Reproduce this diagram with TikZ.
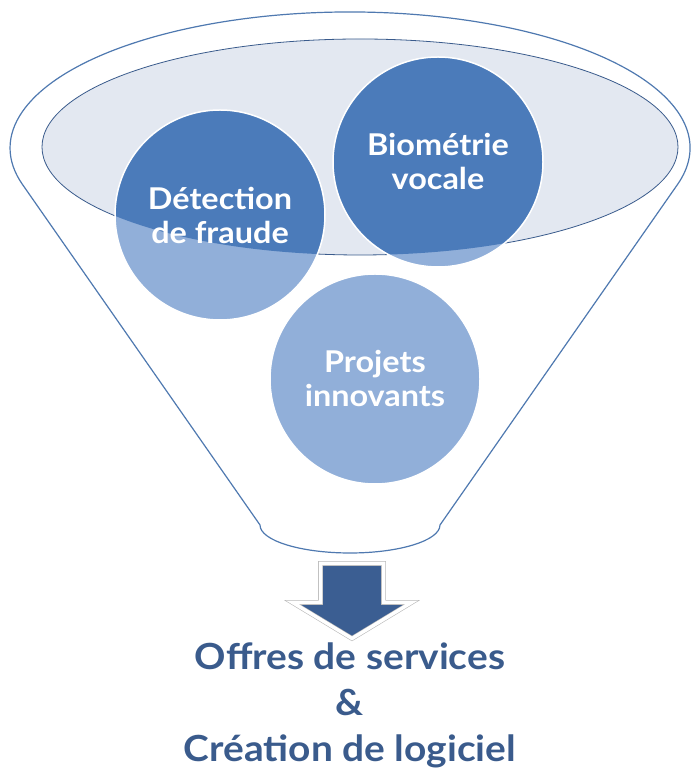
\documentclass[tikz,border=0pt]{standalone}
\usepackage{fontspec}
\setmainfont{Lato}
\newfontfamily\gill[FakeStretch=1.08]{Lato}
\usetikzlibrary{calc}
\definecolor{rim}{HTML}{4F79B0}
\definecolor{cup}{HTML}{E3E8F1}
\definecolor{deep}{HTML}{4B7BBA}
\definecolor{pale}{HTML}{91AFD9}
\definecolor{ink}{HTML}{3A5B8C}
\definecolor{shaft}{HTML}{3B5E92}
\begin{document}
\begin{tikzpicture}[x=1pt, y=1pt,
  bubble/.style={circle, draw=white, line width=1.5pt, fill=pale, minimum size=210pt, inner sep=0pt,
    text=white, align=center, font=\gill\bfseries\fontsize{30}{34}\selectfont,
    path picture={\fill[deep] (E) ellipse [x radius=318, y radius=108];}}]
\useasboundingbox (0,0) rectangle (691,770);
\coordinate (F) at (350,622);
\coordinate (E) at (360,623);
\coordinate (bl) at (260,245);
\coordinate (br) at (440,245);
\filldraw[draw=rim, line width=1.2pt, fill=white] (br) -- ($(F)+(-15.6:340 and 136)$)
  arc[start angle=-15.6, end angle=195.6, x radius=340, y radius=136] -- (bl)
  arc[start angle=180, end angle=360, x radius=90, y radius=28] -- cycle;
\filldraw[fill=cup, draw=ink, line width=0.8pt] (E) ellipse [x radius=318, y radius=108];

\node[bubble] (fraude) at (220,555) {Détection\\de fraude};
\node[bubble] (biometrie) at (438,608) {Biométrie\\vocale};
\node[bubble] (projets) at (375,391) {Projets\\innovants};

\filldraw[fill=shaft, draw=gray!55, double=white, double distance=3.5pt, line width=0.6pt]
  (320.5,206.5) -- (383.5,206.5) -- (383.5,167.5) -- (411.5,167.5) -- (352,131.5)
  -- (292.5,167.5) -- (320.5,167.5) -- cycle;
\node[text=ink, font=\gill\bfseries\fontsize{36}{46}\selectfont, align=center] (offres) at (350,65)
  {Offres de services\\\&\\Création de logiciel};
\end{tikzpicture}
\end{document}
